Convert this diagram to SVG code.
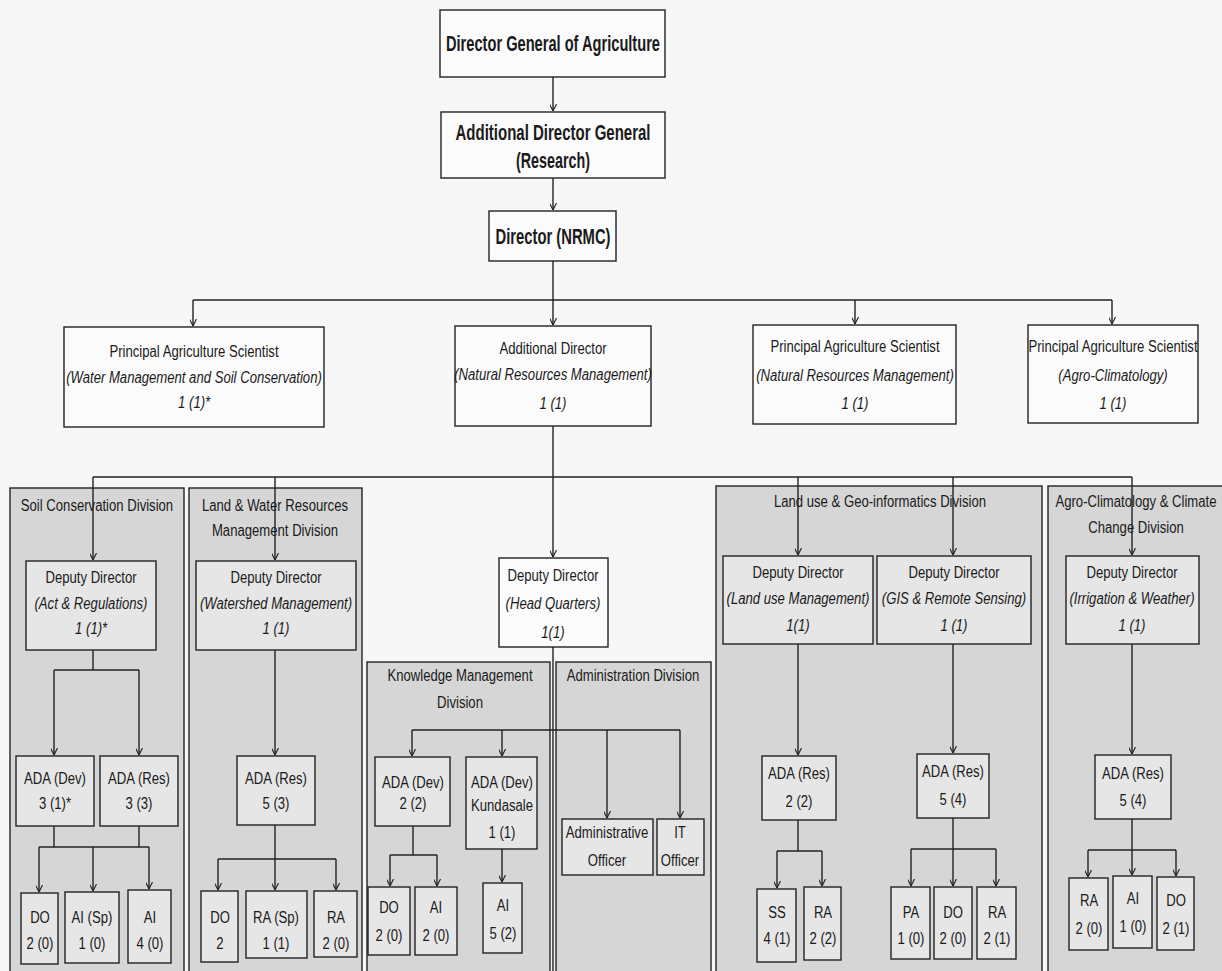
<svg xmlns="http://www.w3.org/2000/svg" width="1222" height="971" viewBox="0 0 1222 971">
<defs>
<marker id="arr" viewBox="0 0 10 10" refX="10" refY="5" markerWidth="7" markerHeight="7" markerUnits="userSpaceOnUse" orient="auto">
<path d="M0,0 L10,5 L0,10" fill="none" stroke="#222" stroke-width="1.6"/>
</marker>
</defs>
<style>
.box{fill:#fbfbfb;stroke:#222;stroke-width:1.4}
.ibox{fill:#e6e6e6;stroke:#222;stroke-width:1.4}
.dv{fill:#d6d6d6;stroke:#222;stroke-width:1.4}
text{font-family:"Liberation Sans Narrow","Liberation Sans",Arial,sans-serif;font-size:16px;fill:#1a1a1a;text-anchor:middle}
text:not(.b){transform-box:fill-box;transform-origin:center;transform:scaleX(0.82)}
.i{font-style:italic}
.b{font-weight:bold;font-size:22px}
#connectors line,#connectors path{stroke:#222;stroke-width:1.4;fill:none}
.a{marker-end:url(#arr)}
</style>
<rect width="1222" height="971" fill="#f7f7f7"/>

<g id="divisions">
<g id="div-soil"><rect class="dv" x="10" y="488" width="174" height="490"/><text x="97" y="511">Soil Conservation  Division</text></g>
<g id="div-landwater"><rect class="dv" x="189" y="488" width="173" height="490"/><text x="275" y="511">Land &amp; Water Resources</text><text x="275" y="536">Management Division</text></g>
<g id="div-km"><rect class="dv" x="367" y="662" width="183" height="316"/><text x="460" y="681">Knowledge Management</text><text x="460" y="708">Division</text></g>
<g id="div-admin"><rect class="dv" x="556" y="662" width="155" height="316"/><text x="633" y="681">Administration Division</text></g>
<g id="div-landuse"><rect class="dv" x="716" y="486" width="326" height="492"/><text x="880" y="507">Land use &amp; Geo-informatics Division</text></g>
<g id="div-agro"><rect class="dv" x="1048" y="486" width="180" height="492"/><text x="1136" y="507">Agro-Climatology &amp; Climate</text><text x="1136" y="533">Change Division</text></g>
</g>

<g id="connectors">
<line class="a" x1="553" y1="77" x2="553" y2="111"/>
<line class="a" x1="553" y1="178" x2="553" y2="210"/>
<line x1="553" y1="261" x2="553" y2="300"/>
<line x1="193" y1="300" x2="1112" y2="300"/>
<line class="a" x1="193" y1="300" x2="193" y2="326"/>
<line class="a" x1="553" y1="300" x2="553" y2="325"/>
<line class="a" x1="855" y1="300" x2="855" y2="324"/>
<line class="a" x1="1112" y1="300" x2="1112" y2="324"/>
<line class="a" x1="553" y1="426" x2="553" y2="557"/>
<line x1="93" y1="477" x2="1132" y2="477"/>
<line class="a" x1="93" y1="477" x2="93" y2="560"/>
<line class="a" x1="275" y1="477" x2="275" y2="560"/>
<line class="a" x1="798" y1="477" x2="798" y2="555"/>
<line class="a" x1="953" y1="477" x2="953" y2="555"/>
<line class="a" x1="1132" y1="477" x2="1132" y2="555"/>
<line x1="553" y1="647" x2="553" y2="971"/>
<line x1="412" y1="730" x2="680" y2="730"/>
<line class="a" x1="412" y1="730" x2="412" y2="756"/>
<line class="a" x1="502" y1="730" x2="502" y2="756"/>
<line class="a" x1="607" y1="730" x2="607" y2="818"/>
<line class="a" x1="680" y1="730" x2="680" y2="818"/>
<line x1="413" y1="826" x2="413" y2="855"/>
<line x1="390" y1="855" x2="437" y2="855"/>
<line class="a" x1="390" y1="855" x2="390" y2="886"/>
<line class="a" x1="437" y1="855" x2="437" y2="886"/>
<line class="a" x1="502" y1="849" x2="502" y2="882"/>
<line x1="93" y1="650" x2="93" y2="670"/>
<line x1="54" y1="670" x2="139" y2="670"/>
<line class="a" x1="54" y1="670" x2="54" y2="755"/>
<line class="a" x1="139" y1="670" x2="139" y2="755"/>
<line x1="54" y1="826" x2="54" y2="847"/>
<line x1="139" y1="826" x2="139" y2="847"/>
<line x1="39" y1="847" x2="149" y2="847"/>
<line class="a" x1="39" y1="847" x2="39" y2="892"/>
<line class="a" x1="93" y1="847" x2="93" y2="891"/>
<line class="a" x1="149" y1="847" x2="149" y2="889"/>
<line class="a" x1="275" y1="650" x2="275" y2="755"/>
<line x1="275" y1="825" x2="275" y2="859"/>
<line x1="218" y1="859" x2="336" y2="859"/>
<line class="a" x1="218" y1="859" x2="218" y2="890"/>
<line class="a" x1="275" y1="859" x2="275" y2="890"/>
<line class="a" x1="336" y1="859" x2="336" y2="890"/>
<line class="a" x1="798" y1="644" x2="798" y2="755"/>
<line x1="798" y1="820" x2="798" y2="851"/>
<line x1="777" y1="851" x2="822" y2="851"/>
<line class="a" x1="777" y1="851" x2="777" y2="888"/>
<line class="a" x1="822" y1="851" x2="822" y2="886"/>
<line class="a" x1="953" y1="644" x2="953" y2="753"/>
<line x1="953" y1="818" x2="953" y2="849"/>
<line x1="911" y1="849" x2="996" y2="849"/>
<line class="a" x1="911" y1="849" x2="911" y2="886"/>
<line class="a" x1="953" y1="849" x2="953" y2="886"/>
<line class="a" x1="996" y1="849" x2="996" y2="886"/>
<line class="a" x1="1132" y1="644" x2="1132" y2="754"/>
<line x1="1132" y1="819" x2="1132" y2="850"/>
<line x1="1088" y1="850" x2="1176" y2="850"/>
<line class="a" x1="1088" y1="850" x2="1088" y2="877"/>
<line class="a" x1="1132" y1="850" x2="1132" y2="875"/>
<line class="a" x1="1176" y1="850" x2="1176" y2="876"/>
</g>

<g id="n-dg"><rect class="box" x="440" y="10" width="225" height="67"/><text class="b" x="553" y="51" textLength="214" lengthAdjust="spacingAndGlyphs">Director General of Agriculture</text></g>
<g id="n-adg"><rect class="box" x="441" y="112" width="224" height="66"/><text class="b" x="553" y="140" textLength="195" lengthAdjust="spacingAndGlyphs">Additional Director General</text><text class="b" x="553" y="168" textLength="74" lengthAdjust="spacingAndGlyphs">(Research)</text></g>
<g id="n-dir"><rect class="box" x="489" y="211" width="127" height="50"/><text class="b" x="553" y="244" textLength="115" lengthAdjust="spacingAndGlyphs">Director (NRMC)</text></g>

<g id="n-pas-wm"><rect class="box" x="64" y="327" width="260" height="100"/><text x="194" y="357">Principal Agriculture Scientist</text><text class="i" x="194" y="383">(Water Management and Soil Conservation)</text><text class="i" x="194" y="408">1 (1)*</text></g>
<g id="n-ad"><rect class="box" x="455" y="326" width="196" height="100"/><text x="553" y="354">Additional Director</text><text class="i" x="553" y="380">(Natural Resources Management)</text><text class="i" x="553" y="409">1 (1)</text></g>
<g id="n-pas-nrm"><rect class="box" x="753" y="325" width="203" height="99"/><text x="855" y="352">Principal Agriculture Scientist</text><text class="i" x="855" y="381">(Natural Resources Management)</text><text class="i" x="855" y="409">1 (1)</text></g>
<g id="n-pas-agro"><rect class="box" x="1028" y="325" width="170" height="98"/><text x="1113" y="352">Principal Agriculture Scientist</text><text class="i" x="1113" y="381">(Agro-Climatology)</text><text class="i" x="1113" y="409">1 (1)</text></g>

<g id="n-dd-act"><rect class="ibox" x="26" y="561" width="130" height="89"/><text x="91" y="583">Deputy Director</text><text class="i" x="91" y="609">(Act &amp; Regulations)</text><text class="i" x="91" y="634">1 (1)*</text></g>
<g id="n-dd-ws"><rect class="ibox" x="196" y="561" width="160" height="89"/><text x="276" y="583">Deputy Director</text><text class="i" x="276" y="609">(Watershed Management)</text><text class="i" x="276" y="634">1 (1)</text></g>
<g id="n-dd-hq"><rect class="box" x="499" y="558" width="109" height="89"/><text x="553" y="581">Deputy Director</text><text class="i" x="553" y="609">(Head Quarters)</text><text class="i" x="553" y="638">1(1)</text></g>
<g id="n-dd-lu"><rect class="ibox" x="723" y="556" width="150" height="88"/><text x="798" y="578">Deputy Director</text><text class="i" x="798" y="604">(Land use Management)</text><text class="i" x="798" y="631">1(1)</text></g>
<g id="n-dd-gis"><rect class="ibox" x="877" y="556" width="154" height="88"/><text x="954" y="578">Deputy Director</text><text class="i" x="954" y="604">(GIS &amp; Remote Sensing)</text><text class="i" x="954" y="631">1 (1)</text></g>
<g id="n-dd-irr"><rect class="ibox" x="1066" y="556" width="133" height="88"/><text x="1132" y="578">Deputy Director</text><text class="i" x="1132" y="604">(Irrigation &amp; Weather)</text><text class="i" x="1132" y="631">1 (1)</text></g>

<g id="n-ada-dev-soil"><rect class="ibox" x="16" y="756" width="78" height="70"/><text x="55" y="784">ADA (Dev)</text><text x="55" y="809">3 (1)*</text></g>
<g id="n-ada-res-soil"><rect class="ibox" x="100" y="756" width="78" height="70"/><text x="139" y="784">ADA (Res)</text><text x="139" y="809">3 (3)</text></g>
<g id="n-ada-res-lw"><rect class="ibox" x="237" y="756" width="78" height="69"/><text x="276" y="784">ADA (Res)</text><text x="276" y="809">5 (3)</text></g>
<g id="n-ada-dev-km"><rect class="ibox" x="375" y="757" width="75" height="69"/><text x="413" y="788">ADA (Dev)</text><text x="413" y="809">2 (2)</text></g>
<g id="n-ada-dev-kund"><rect class="ibox" x="466" y="757" width="71" height="92"/><text x="502" y="788">ADA (Dev)</text><text x="502" y="811">Kundasale</text><text x="502" y="838">1 (1)</text></g>
<g id="n-ao"><rect class="ibox" x="562" y="819" width="91" height="56"/><text x="607" y="838">Administrative</text><text x="607" y="866">Officer</text></g>
<g id="n-it"><rect class="ibox" x="657" y="819" width="47" height="56"/><text x="680" y="838">IT</text><text x="680" y="866">Officer</text></g>
<g id="n-ada-res-lu"><rect class="ibox" x="762" y="756" width="74" height="64"/><text x="799" y="779">ADA (Res)</text><text x="799" y="807">2 (2)</text></g>
<g id="n-ada-res-gis"><rect class="ibox" x="917" y="754" width="72" height="64"/><text x="953" y="777">ADA (Res)</text><text x="953" y="805">5 (4)</text></g>
<g id="n-ada-res-agro"><rect class="ibox" x="1095" y="755" width="76" height="64"/><text x="1133" y="779">ADA (Res)</text><text x="1133" y="806">5 (4)</text></g>

<g id="n-do-soil"><rect class="ibox" x="21" y="893" width="37" height="71"/><text x="40" y="923">DO</text><text x="40" y="949">2 (0)</text></g>
<g id="n-aisp-soil"><rect class="ibox" x="65" y="892" width="54" height="71"/><text x="92" y="923">AI (Sp)</text><text x="92" y="949">1 (0)</text></g>
<g id="n-ai-soil"><rect class="ibox" x="128" y="890" width="43" height="73"/><text x="150" y="923">AI</text><text x="150" y="949">4 (0)</text></g>
<g id="n-do-lw"><rect class="ibox" x="201" y="891" width="37" height="71"/><text x="220" y="923">DO</text><text x="220" y="949">2</text></g>
<g id="n-rasp-lw"><rect class="ibox" x="246" y="891" width="61" height="67"/><text x="276" y="923">RA (Sp)</text><text x="276" y="949">1 (1)</text></g>
<g id="n-ra-lw"><rect class="ibox" x="314" y="891" width="43" height="66"/><text x="336" y="923">RA</text><text x="336" y="949">2 (0)</text></g>
<g id="n-do-km"><rect class="ibox" x="368" y="887" width="42" height="68"/><text x="389" y="913">DO</text><text x="389" y="941">2 (0)</text></g>
<g id="n-ai-km"><rect class="ibox" x="415" y="887" width="42" height="68"/><text x="436" y="913">AI</text><text x="436" y="941">2 (0)</text></g>
<g id="n-ai-kund"><rect class="ibox" x="483" y="883" width="39" height="70"/><text x="503" y="911">AI</text><text x="503" y="939">5 (2)</text></g>
<g id="n-ss-lu"><rect class="ibox" x="757" y="889" width="39" height="73"/><text x="777" y="918">SS</text><text x="777" y="944">4 (1)</text></g>
<g id="n-ra-lu"><rect class="ibox" x="804" y="887" width="37" height="73"/><text x="823" y="918">RA</text><text x="823" y="944">2 (2)</text></g>
<g id="n-pa-gis"><rect class="ibox" x="891" y="887" width="39" height="72"/><text x="911" y="918">PA</text><text x="911" y="944">1 (0)</text></g>
<g id="n-do-gis"><rect class="ibox" x="934" y="887" width="38" height="72"/><text x="953" y="918">DO</text><text x="953" y="944">2 (0)</text></g>
<g id="n-ra-gis"><rect class="ibox" x="977" y="887" width="39" height="72"/><text x="997" y="918">RA</text><text x="997" y="944">2 (1)</text></g>
<g id="n-ra-agro"><rect class="ibox" x="1069" y="878" width="39" height="72"/><text x="1089" y="906">RA</text><text x="1089" y="934">2 (0)</text></g>
<g id="n-ai-agro"><rect class="ibox" x="1113" y="876" width="39" height="72"/><text x="1133" y="904">AI</text><text x="1133" y="932">1 (0)</text></g>
<g id="n-do-agro"><rect class="ibox" x="1157" y="877" width="37" height="73"/><text x="1176" y="906">DO</text><text x="1176" y="934">2 (1)</text></g>
</svg>
